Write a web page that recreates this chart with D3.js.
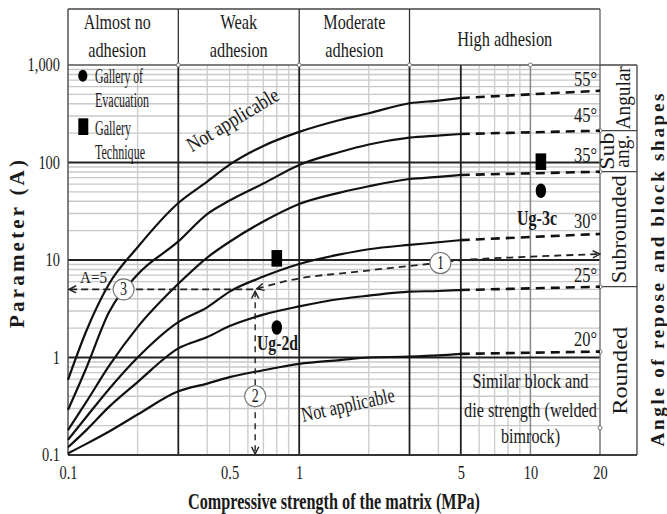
<!DOCTYPE html>
<html>
<head>
<meta charset="utf-8">
<script src="https://cdn.jsdelivr.net/npm/d3@7/dist/d3.min.js"></script>
<style>
  body { margin: 0; background: #fff; }
  svg text { font-family: 'Liberation Serif', 'Times New Roman', serif; fill: #1a1a1a; }
</style>
</head>
<body>
<div id="chart"></div>
<script>
'use strict';

// Values: Parameter A against matrix strength (MPa)
var curveX  = [0.1, 0.12, 0.15, 0.2, 0.3, 0.4, 0.5, 0.7, 1, 1.5, 2, 3, 4, 5];
var angles  = ['55°', '45°', '35°', '30°', '25°', '20°'];
var curve55 = [0.59, 1.87, 5.6, 13.5, 38.4, 63.7, 95, 148, 206, 273, 320, 405, 432, 459];
var curve45 = [0.29, 0.78, 2.87, 7.1, 15.5, 29.6, 40.7, 60.8, 94.3, 128, 153, 180, 189, 196];
var curve35 = [0.18, 0.35, 0.81, 2.05, 5.7, 10.6, 15.4, 24.8, 37.5, 49.1, 57.1, 67.7, 71.3, 74.5];
var curve30 = [0.143, 0.245, 0.47, 1.0, 2.31, 3.27, 4.74, 6.76, 9.1, 11.4, 12.9, 14.3, 15.2, 16.0];
var curve25 = [0.12, 0.18, 0.31, 0.56, 1.24, 1.62, 2.1, 2.75, 3.34, 3.98, 4.31, 4.73, 4.81, 4.92];
var curve20 = [0.104, 0.13, 0.173, 0.26, 0.45, 0.54, 0.63, 0.74, 0.86, 0.94, 1.0, 1.02, 1.05, 1.09];
var curveEnds = [545, 212, 80.5, 18.5, 5.32, 1.15]; // dashed extension, value at 20 MPa

var xTicks = [0.1, 0.5, 1, 5, 10, 20];
var yTicks = [0.1, 1, 10, 100, 1000];
var xMajor = [0.3, 1, 3, 5];
var xMinor = [0.2, 0.4, 0.5, 0.6, 0.7, 0.8, 0.9, 2, 4, 6, 7, 8, 9];
var xMid   = [10];
var yMajor = [1, 10, 100];
var decades = [0.1, 1, 10, 100];

var adhesionBounds = [0.1, 0.3, 1, 3, 20];
var adhesionLabels = [['Almost no', 'adhesion'], ['Weak', 'adhesion'], ['Moderate', 'adhesion'], ['High adhesion']];
var shapeBounds = [1000, 212, 80.5, 5.32, 0.1];
var shapeLabels = [['Angular'], ['Sub', 'ang.'], ['Subrounded'], ['Rounded']];

// worked example: arrows 1, 2, 3
var path1X = [0.655, 0.91, 1.8, 3.6, 4.7, 10, 20];
var path1A = [5.05, 6.2, 7.6, 9.1, 9.8, 10.8, 11.5];
var pickX = 0.645, pickA = 5;
var stepLabels = ['1', '2', '3'];
var stepX = [4.08, 0.645, 0.174];
var stepA = [9.3, 0.40, 5];

// samples
var sampleNames = ['Ug-2d', 'Ug-3c'];
var sampleX = [0.8, 11.1];
var evacA = [2.03, 51.3];
var techA = [10.4, 102];

var margin = {top: 65, right: 67, bottom: 59, left: 68};
var width = 667 - margin.left - margin.right;
var height = 514 - margin.top - margin.bottom;

var x = d3.scaleLog().domain([0.1, 20]).range([0, width]);
var y = d3.scaleLog().domain([0.1, 1000]).range([height, 0]);

var svg = d3.select('#chart').append('svg')
  .attr('width', 667)
  .attr('height', 514);

var defs = svg.append('defs');
defs.append('marker')
  .attr('id', 'arr')
  .attr('viewBox', '0 0 10 10')
  .attr('refX', 9).attr('refY', 5)
  .attr('markerWidth', 9).attr('markerHeight', 9)
  .attr('markerUnits', 'userSpaceOnUse')
  .attr('orient', 'auto-start-reverse')
  .append('path')
    .attr('d', 'M1,1 L9,5 L1,9')
    .attr('fill', 'none')
    .attr('stroke', '#222')
    .attr('stroke-width', 1.6);

var g = svg.append('g')
  .attr('transform', 'translate(' + margin.left + ',' + margin.top + ')');

// the figure is narrow: fit each text into the width it has there
function fit(sel, len) {
  return sel.attr('textLength', len).attr('lengthAdjust', 'spacingAndGlyphs');
}
function squeeze(sel, k) {
  sel.each(function() {
    var w = this.getComputedTextLength();
    d3.select(this).attr('textLength', w * k).attr('lengthAdjust', 'spacingAndGlyphs');
  });
  return sel;
}

// Grid
var yMinor = [];
decades.forEach(function(d) { d3.range(2, 10).forEach(function(k) { yMinor.push(d * k) }) });

g.selectAll('.hminor').data(yMinor).enter().append('line')
  .attr('x1', 0).attr('x2', width)
  .attr('y1', function(d) { return y(d) }).attr('y2', function(d) { return y(d) })
  .attr('stroke', '#c8c8c8').attr('stroke-width', 1.4);

g.selectAll('.vminor').data(xMinor).enter().append('line')
  .attr('x1', function(d) { return x(d) }).attr('x2', function(d) { return x(d) })
  .attr('y1', 0).attr('y2', height)
  .attr('stroke', '#cdcdcd').attr('stroke-width', 1.4);

g.selectAll('.vmid').data(xMid).enter().append('line')
  .attr('x1', function(d) { return x(d) }).attr('x2', function(d) { return x(d) })
  .attr('y1', 0).attr('y2', height)
  .attr('stroke', '#888').attr('stroke-width', 1.5);

g.selectAll('.hmajor').data(yMajor).enter().append('line')
  .attr('x1', 0).attr('x2', width)
  .attr('y1', function(d) { return y(d) }).attr('y2', function(d) { return y(d) })
  .attr('stroke', '#222').attr('stroke-width', 1.8);

g.selectAll('.vmajor').data(xMajor).enter().append('line')
  .attr('x1', function(d) { return x(d) }).attr('x2', function(d) { return x(d) })
  .attr('y1', 0).attr('y2', height)
  .attr('stroke', '#222').attr('stroke-width', 1.8);

// frame
g.append('line').attr('x1', 0).attr('x2', 0).attr('y1', -56).attr('y2', height)
  .attr('stroke', '#555').attr('stroke-width', 1.5);
g.append('line').attr('x1', width).attr('x2', width).attr('y1', -56).attr('y2', height)
  .attr('stroke', '#777').attr('stroke-width', 1.5);
g.append('line').attr('x1', 0).attr('x2', width).attr('y1', 0).attr('y2', 0)
  .attr('stroke', '#555').attr('stroke-width', 1.5);
g.append('line').attr('x1', 0).attr('x2', width + 37).attr('y1', height).attr('y2', height)
  .attr('stroke', '#333').attr('stroke-width', 1.8);

// Header: adhesion classes
g.append('line').attr('x1', 0).attr('x2', width).attr('y1', -56).attr('y2', -56)
  .attr('stroke', '#444').attr('stroke-width', 1.3);
g.selectAll('.hdiv').data(adhesionBounds.slice(1, -1)).enter().append('line')
  .attr('x1', function(d) { return x(d) }).attr('x2', function(d) { return x(d) })
  .attr('y1', -56).attr('y2', 0)
  .attr('stroke', '#333').attr('stroke-width', 1.3);

var headLen = [[67, 58], [37, 58], [62, 58], [95]];
adhesionLabels.forEach(function(lines, i) {
  var cx = (x(adhesionBounds[i]) + x(adhesionBounds[i + 1])) / 2;
  if (i === 0) cx -= 6;
  var top = lines.length === 1 ? -19 : -36;
  lines.forEach(function(t, j) {
    fit(g.append('text')
      .attr('x', cx).attr('y', top + j * 28)
      .attr('text-anchor', 'middle')
      .attr('font-size', 22)
      .text(t), headLen[i][j]);
  });
});

// Right box: block shapes
var bx = width, bw = 37;
g.append('line').attr('x1', bx + bw).attr('x2', bx + bw).attr('y1', 0).attr('y2', height)
  .attr('stroke', '#444').attr('stroke-width', 1.3);
g.selectAll('.sdiv').data(shapeBounds).enter().append('line')
  .attr('x1', bx).attr('x2', bx + bw)
  .attr('y1', function(d) { return y(d) }).attr('y2', function(d) { return y(d) })
  .attr('stroke', '#444').attr('stroke-width', 1.3);

var shapeBase = [[630], [613.5, 629], [625.5], [627]];
var shapeLen = [[63], [37, 33], [108], [88]];
shapeLabels.forEach(function(lines, i) {
  var cy = (y(shapeBounds[i]) + y(shapeBounds[i + 1])) / 2 + margin.top;
  lines.forEach(function(t, j) {
    fit(svg.append('text')
      .attr('transform', 'translate(' + shapeBase[i][j] + ',' + cy + ') rotate(-90)')
      .attr('text-anchor', 'middle')
      .attr('font-size', 20)
      .text(t), shapeLen[i][j]);
  });
});

// small joint circles
var jointsTop = [0.3, 1, 3, 10];
g.selectAll('.jt').data(jointsTop).enter().append('circle')
  .attr('cx', function(d) { return x(d) }).attr('cy', 0).attr('r', 2)
  .attr('fill', '#fff').attr('stroke', '#777').attr('stroke-width', 1);
var jointsRight = [212, 80.5, 5.32, 1.15, 0.19];
g.selectAll('.jr').data(jointsRight).enter().append('circle')
  .attr('cx', width).attr('cy', function(d) { return y(d) }).attr('r', 2)
  .attr('fill', '#fff').attr('stroke', '#777').attr('stroke-width', 1);

// Curves
var curves = [curve55, curve45, curve35, curve30, curve25, curve20];
var line = d3.line()
  .x(function(d) { return x(d[0]) })
  .y(function(d) { return y(d[1]) })
  .curve(d3.curveMonotoneX);

curves.forEach(function(vals, i) {
  var pts = curveX.map(function(cx, k) { return [cx, vals[k]] });
  g.append('path')
    .datum(pts)
    .attr('fill', 'none')
    .attr('stroke', '#111')
    .attr('stroke-width', 2.2)
    .attr('stroke-linejoin', 'round')
    .attr('d', line);
  g.append('path')
    .datum([pts[pts.length - 1], [20, curveEnds[i]]])
    .attr('fill', 'none')
    .attr('stroke', '#111')
    .attr('stroke-width', 2.6)
    .attr('stroke-dasharray', '9,6')
    .attr('d', line);
});

// angle labels
var angleBase = [86, 121.7, 161.7, 228.3, 281.7, 346];
angles.forEach(function(a, i) {
  fit(svg.append('text')
    .attr('x', 597).attr('y', angleBase[i])
    .attr('text-anchor', 'end')
    .attr('font-size', 22)
    .text(a), 23);
});

// Worked example arrows
var path1 = path1X.map(function(d, i) { return [d, path1A[i]] });
g.append('path')
  .datum(path1)
  .attr('fill', 'none')
  .attr('stroke', '#222')
  .attr('stroke-width', 1.8)
  .attr('stroke-dasharray', '7,5')
  .attr('marker-start', 'url(#arr)')
  .attr('marker-end', 'url(#arr)')
  .attr('d', line);

g.append('line')
  .attr('x1', x(pickX) - 2).attr('x2', x(0.1) + 1)
  .attr('y1', y(pickA)).attr('y2', y(pickA))
  .attr('stroke', '#222')
  .attr('stroke-width', 1.8)
  .attr('stroke-dasharray', '7,4')
  .attr('marker-end', 'url(#arr)');

g.append('line')
  .attr('x1', x(pickX)).attr('x2', x(pickX))
  .attr('y1', y(pickA) + 2).attr('y2', y(0.1) - 1)
  .attr('stroke', '#222')
  .attr('stroke-width', 1.4)
  .attr('stroke-dasharray', '6,5')
  .attr('marker-start', 'url(#arr)')
  .attr('marker-end', 'url(#arr)');

stepLabels.forEach(function(s, i) {
  g.append('circle')
    .attr('cx', x(stepX[i])).attr('cy', y(stepA[i])).attr('r', 10.5)
    .attr('fill', '#fff').attr('stroke', '#777').attr('stroke-width', 1.1);
  fit(g.append('text')
    .attr('x', x(stepX[i])).attr('y', y(stepA[i]) + 6)
    .attr('text-anchor', 'middle')
    .attr('font-size', 18)
    .text(s), 7);
});

fit(g.append('text')
  .attr('x', x(0.1) + 12).attr('y', y(pickA) - 6)
  .attr('font-size', 17)
  .text('A=5'), 27);

// Samples
g.selectAll('.evac').data(sampleX).enter().append('ellipse')
  .attr('cx', function(d) { return x(d) })
  .attr('cy', function(d, i) { return y(evacA[i]) })
  .attr('rx', 5.2).attr('ry', 7.3)
  .attr('fill', '#000');

g.selectAll('.tech').data(sampleX).enter().append('rect')
  .attr('x', function(d) { return x(d) - 5.3 })
  .attr('y', function(d, i) { return y(techA[i]) - 8.3 })
  .attr('width', 10.6).attr('height', 16.6)
  .attr('fill', '#000');

var nameX = [257, 517], nameY = [350, 225], nameLen = [41, 40];
sampleNames.forEach(function(n, i) {
  fit(svg.append('text')
    .attr('x', nameX[i]).attr('y', nameY[i])
    .attr('font-size', 20)
    .attr('font-weight', 'bold')
    .text(n), nameLen[i]);
});

// Legend
svg.append('ellipse').attr('cx', 82.8).attr('cy', 75.8).attr('rx', 4.6).attr('ry', 6)
  .attr('fill', '#000');
svg.append('rect').attr('x', 78.3).attr('y', 118.3).attr('width', 10).attr('height', 16.7)
  .attr('fill', '#000');
var legendLines = ['Gallery of', 'Evacuation', 'Gallery', 'Technique'];
var legendY = [82.5, 106.7, 135, 159.3];
var legendLen = [48, 54, 36, 50];
legendLines.forEach(function(t, i) {
  fit(svg.append('text')
    .attr('x', 95).attr('y', legendY[i])
    .attr('font-size', 20)
    .text(t), legendLen[i]);
});

// Annotations
fit(svg.append('text')
  .attr('transform', 'translate(191.7,152.5) rotate(-31)')
  .attr('font-size', 21)
  .text('Not applicable'), 104);

fit(svg.append('text')
  .attr('transform', 'translate(303,422) rotate(-12.5)')
  .attr('font-size', 21)
  .text('Not applicable'), 95);

var noteLines = ['Similar block and', 'die strength (welded', 'bimrock)'];
var noteY = [388.3, 416.7, 443.3];
var noteLen = [116, 133, 59];
noteLines.forEach(function(t, i) {
  fit(svg.append('text')
    .attr('x', 530.5).attr('y', noteY[i])
    .attr('text-anchor', 'middle')
    .attr('font-size', 21)
    .text(t), noteLen[i]);
});

// Axes
var xAxis = d3.axisBottom(x)
  .tickValues(xTicks)
  .tickFormat(function(d) { return String(d) })
  .tickSize(0)
  .tickPadding(11);
var yAxis = d3.axisLeft(y)
  .tickValues(yTicks)
  .tickFormat(function(d) { return d === 1000 ? '1,000' : String(d) })
  .tickSize(0)
  .tickPadding(8);

var gx = g.append('g')
  .attr('class', 'axis axis--x')
  .attr('transform', 'translate(0,' + height + ')')
  .call(xAxis);
var gy = g.append('g')
  .attr('class', 'axis axis--y')
  .call(yAxis);

g.selectAll('.axis .domain').remove();
g.selectAll('.axis text')
  .attr('font-family', null)
  .attr('font-size', 18)
  .attr('fill', '#1a1a1a');
gx.selectAll('text').attr('dy', '0.71em');
squeeze(g.selectAll('.axis text'), 0.8);

fit(svg.append('text')
  .attr('x', 334).attr('y', 509)
  .attr('text-anchor', 'middle')
  .attr('font-size', 23)
  .attr('font-weight', 'bold')
  .text('Compressive strength of the matrix (MPa)'), 292);

svg.append('text')
  .attr('transform', 'translate(23.5,244) rotate(-90)')
  .attr('text-anchor', 'middle')
  .attr('font-size', 21)
  .attr('font-weight', 'bold')
  .attr('textLength', 168)
  .attr('lengthAdjust', 'spacing')
  .text('Parameter (A)');

svg.append('text')
  .attr('transform', 'translate(663.5,270) rotate(-90)')
  .attr('text-anchor', 'middle')
  .attr('font-size', 19)
  .attr('font-weight', 'bold')
  .attr('textLength', 353)
  .attr('lengthAdjust', 'spacing')
  .text('Angle of repose and block shapes');
</script>
</body>
</html>
